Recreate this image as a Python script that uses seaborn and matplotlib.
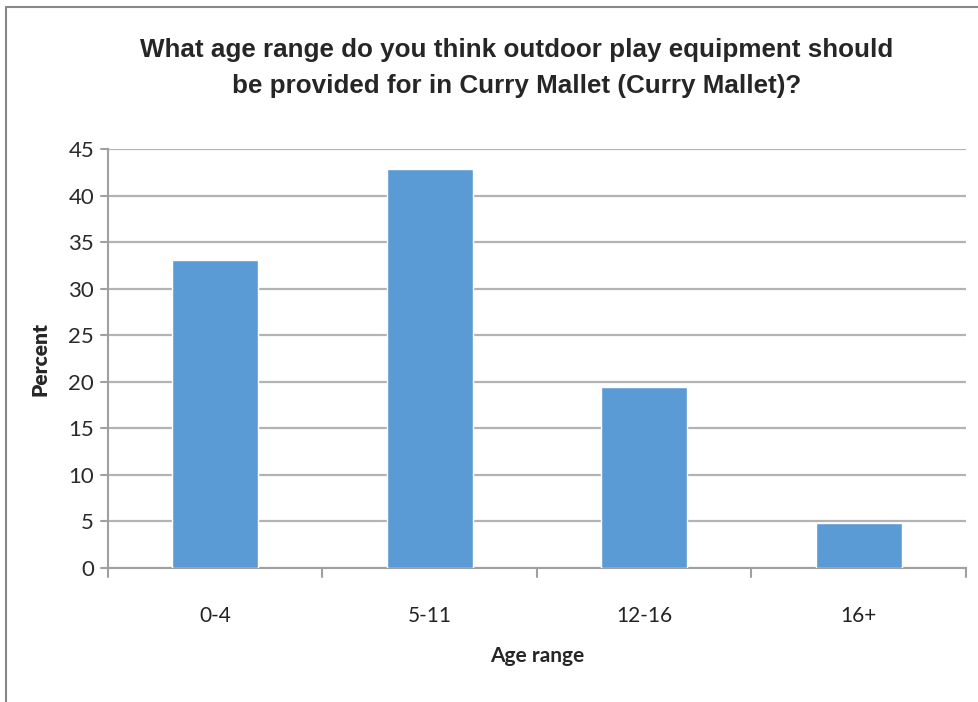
import matplotlib
matplotlib.use('Agg')
import matplotlib.pyplot as plt
import seaborn as sns
import pandas as pd
from matplotlib.lines import Line2D

# 数据
age_ranges = ['0-4', '5-11', '12-16', '16+']
percents = [33.1, 42.8, 19.4, 4.8]
y_ticks = [0, 5, 10, 15, 20, 25, 30, 35, 40, 45]

df = pd.DataFrame({'Age range': age_ranges, 'Percent': percents})

sns.set_style('white')
plt.rcParams['font.family'] = ['Lato', 'DejaVu Sans']

fig = plt.figure(figsize=(9.79, 7.02), dpi=100)
ax = fig.add_axes([108 / 979, 1 - 568 / 702, (966 - 108) / 979, (568 - 149) / 702])

sns.barplot(data=df, x='Age range', y='Percent', color='#5B9BD5',
            width=0.40, saturation=1, ax=ax, zorder=3)

ax.set_ylim(0, 45)
ax.set_xlim(-0.5, len(age_ranges) - 0.5)
ax.set_yticks(y_ticks)
ax.set_yticklabels([str(t) for t in y_ticks], fontsize=16, color='#2a2a2a')
ax.yaxis.grid(True, color='#b3b3b3', linewidth=1.6, zorder=0)
ax.xaxis.grid(False)

# 类别边界刻度
ax.set_xticks(range(len(age_ranges)))
ax.set_xticklabels(age_ranges, fontsize=15, color='#222222')
ax.tick_params(axis='x', length=0, pad=27)
ax.tick_params(axis='y', length=0, pad=10)
for b in [x - 0.5 for x in range(len(age_ranges) + 1)]:
    ax.plot([b, b], [0, -0.021], transform=ax.get_xaxis_transform(),
            color='#a0a0a0', linewidth=1.5, clip_on=False)
for t in y_ticks:
    ax.plot([-0.008, 0], [t, t], transform=ax.get_yaxis_transform(),
            color='#a0a0a0', linewidth=1.5, clip_on=False)

for s in ['top', 'right']:
    ax.spines[s].set_visible(False)
for s in ['left', 'bottom']:
    ax.spines[s].set_color('#a0a0a0')
    ax.spines[s].set_linewidth(1.5)

ax.set_xlabel('Age range', fontsize=15, fontweight='bold')
ax.set_ylabel('Percent', fontsize=15, fontweight='heavy')
ax.xaxis.set_label_coords(0.5, -0.185)
ax.yaxis.set_label_coords(-0.068, 0.5)

fig.text(0.528, 0.903,
         'What age range do you think outdoor play equipment should\n'
         'be provided for in Curry Mallet (Curry Mallet)?',
         ha='center', va='center', fontsize=18.7, fontweight='bold',
         family=['Liberation Sans', 'DejaVu Sans'], linespacing=1.6)

# 外框
fig.add_artist(Line2D([0.0065, 1], [1 - 7 / 702, 1 - 7 / 702], color='#888888', linewidth=1.5))
fig.add_artist(Line2D([0.0065, 0.0065], [0, 1 - 7 / 702], color='#888888', linewidth=1.5))

fig.savefig('out.png', dpi=100)
